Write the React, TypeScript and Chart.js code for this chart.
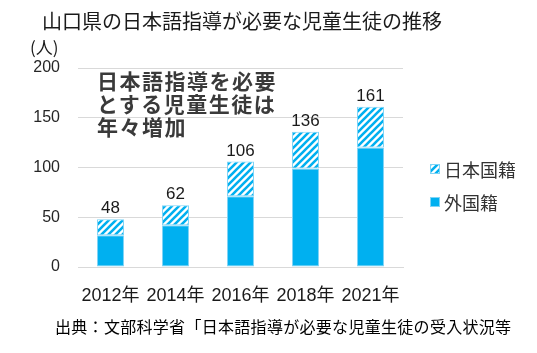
import React, { useEffect, useRef } from "react";
import { Chart, registerables } from "chart.js";

Chart.register(...registerables);

const categories = ["2012年", "2014年", "2016年", "2018年", "2021年"];
const foreignNationals = [32, 42, 71, 99, 120];
const japaneseNationals = [16, 20, 35, 37, 41];
const yTicks = [0, 50, 100, 150, 200];
const seriesNames = ["外国籍", "日本国籍"];

const BLUE = "#00B0F0";
const EDGE = "#7FD4F6";
const FONT = "'Noto Sans CJK JP', 'Noto Sans', sans-serif";
const NUMFONT = "'Liberation Sans', 'Noto Sans CJK JP', sans-serif";

function makeHatch(): CanvasPattern | string {
  const s = 7;
  const c = document.createElement("canvas");
  c.width = s;
  c.height = s;
  const g = c.getContext("2d");
  if (!g) return BLUE;
  g.fillStyle = "#ffffff";
  g.fillRect(0, 0, s, s);
  g.strokeStyle = BLUE;
  g.lineWidth = 2.6;
  g.beginPath();
  g.moveTo(-s, s);
  g.lineTo(s, -s);
  g.moveTo(0, s);
  g.lineTo(s, 0);
  g.moveTo(0, 2 * s);
  g.lineTo(2 * s, 0);
  g.stroke();
  return g.createPattern(c, "repeat") || BLUE;
}

export default function App() {
  const ref = useRef<HTMLCanvasElement | null>(null);

  useEffect(() => {
    document.body.style.margin = "0";
    const canvas = ref.current;
    if (!canvas) return;
    const hatch = makeHatch();

    const totalsPlugin = {
      id: "totals",
      afterDatasetsDraw(chart: any) {
        const ctx = chart.ctx;
        const top = chart.getDatasetMeta(1);
        ctx.save();
        ctx.font = `17px ${NUMFONT}`;
        ctx.fillStyle = "#1a1a1a";
        ctx.textAlign = "center";
        ctx.textBaseline = "alphabetic";
        top.data.forEach((el: any, i: number) => {
          const total = foreignNationals[i] + japaneseNationals[i];
          ctx.fillText(String(total), el.x, el.y - 6);
        });
        ctx.restore();
      },
    };

    const legendPlugin = {
      id: "customLegend",
      afterDraw(chart: any) {
        const ctx = chart.ctx;
        const ds = chart.data.datasets;
        const order = [1, 0];
        ctx.save();
        order.forEach((di, k) => {
          const yc = 169 + k * 33;
          const x = 430;
          ctx.fillStyle = ds[di].backgroundColor;
          ctx.fillRect(x, yc - 5, 10, 10);
          ctx.strokeStyle = EDGE;
          ctx.lineWidth = 1;
          ctx.strokeRect(x + 0.5, yc - 4.5, 9, 9);
          ctx.fillStyle = "#333333";
          ctx.font = `18px ${FONT}`;
          ctx.textAlign = "left";
          ctx.textBaseline = "middle";
          ctx.fillText(ds[di].label, 444, yc + 1);
        });
        ctx.restore();
      },
    };

    const chart = new Chart(canvas, {
      type: "bar",
      data: {
        labels: categories,
        datasets: [
          {
            label: seriesNames[0],
            data: foreignNationals,
            backgroundColor: BLUE,
            borderColor: EDGE,
            borderWidth: 1,
            borderSkipped: false,
            categoryPercentage: 1,
            barPercentage: 0.415,
          },
          {
            label: seriesNames[1],
            data: japaneseNationals,
            backgroundColor: hatch as any,
            borderColor: EDGE,
            borderWidth: 1,
            borderSkipped: false,
            categoryPercentage: 1,
            barPercentage: 0.415,
          },
        ],
      },
      options: {
        responsive: false,
        animation: false,
        events: [],
        layout: { padding: { left: 0, right: 134, top: 68, bottom: 0 } },
        plugins: {
          legend: { display: false },
          title: { display: false },
          tooltip: { enabled: false },
        },
        scales: {
          x: {
            stacked: true,
            grid: { display: false, drawTicks: false },
            border: { display: true, color: "#d9d9d9", width: 1 },
            ticks: {
              padding: 18,
              color: "#1a1a1a",
              font: { family: NUMFONT, size: 18 },
              maxRotation: 0,
              autoSkip: false,
            },
            afterFit(scale: any) {
              scale.height = 86;
            },
          },
          y: {
            stacked: true,
            min: 0,
            max: 200,
            afterBuildTicks(scale: any) {
              scale.ticks = yTicks.map((v) => ({ value: v }));
            },
            grid: { color: "#d9d9d9", lineWidth: 1, drawTicks: false },
            border: { display: false },
            ticks: {
              padding: 18,
              color: "#262626",
              font: { family: NUMFONT, size: 16 },
            },
            afterFit(scale: any) {
              scale.width = 78;
            },
          },
        },
      },
      plugins: [totalsPlugin, legendPlugin],
    });

    return () => {
      chart.destroy();
    };
  }, []);

  return (
    <div
      style={{
        position: "absolute",
        left: 0,
        top: 0,
        width: 537,
        height: 353,
        background: "#ffffff",
        overflow: "hidden",
      }}
    >
      <canvas
        ref={ref}
        width={537}
        height={353}
        style={{ position: "absolute", left: 0, top: 0, width: 537, height: 353 }}
      />
      <div
        style={{
          position: "absolute",
          left: 42,
          top: 11,
          fontFamily: FONT,
          fontSize: 20,
          lineHeight: "20px",
          color: "#1a1a1a",
          whiteSpace: "nowrap",
        }}
      >
        山口県の日本語指導が必要な児童生徒の推移
      </div>
      <div
        style={{
          position: "absolute",
          left: 30,
          top: 38,
          fontFamily: FONT,
          fontSize: 17,
          lineHeight: "17px",
          color: "#1a1a1a",
          whiteSpace: "nowrap",
        }}
      >
        (人)
      </div>
      <div
        style={{
          position: "absolute",
          left: 97,
          top: 69,
          fontFamily: FONT,
          fontSize: 21,
          fontWeight: 700,
          lineHeight: "23px",
          letterSpacing: "1.5px",
          color: "#3a3a3a",
          whiteSpace: "nowrap",
        }}
      >
        <div>日本語指導を必要</div>
        <div>とする児童生徒は</div>
        <div>年々増加</div>
      </div>
      <div
        style={{
          position: "absolute",
          left: 55,
          top: 318,
          fontFamily: FONT,
          fontSize: 16,
          lineHeight: "16px",
          letterSpacing: "0.3px",
          color: "#000000",
          whiteSpace: "nowrap",
        }}
      >
        出典：文部科学省「日本語指導が必要な児童生徒の受入状況等
      </div>
    </div>
  );
}
